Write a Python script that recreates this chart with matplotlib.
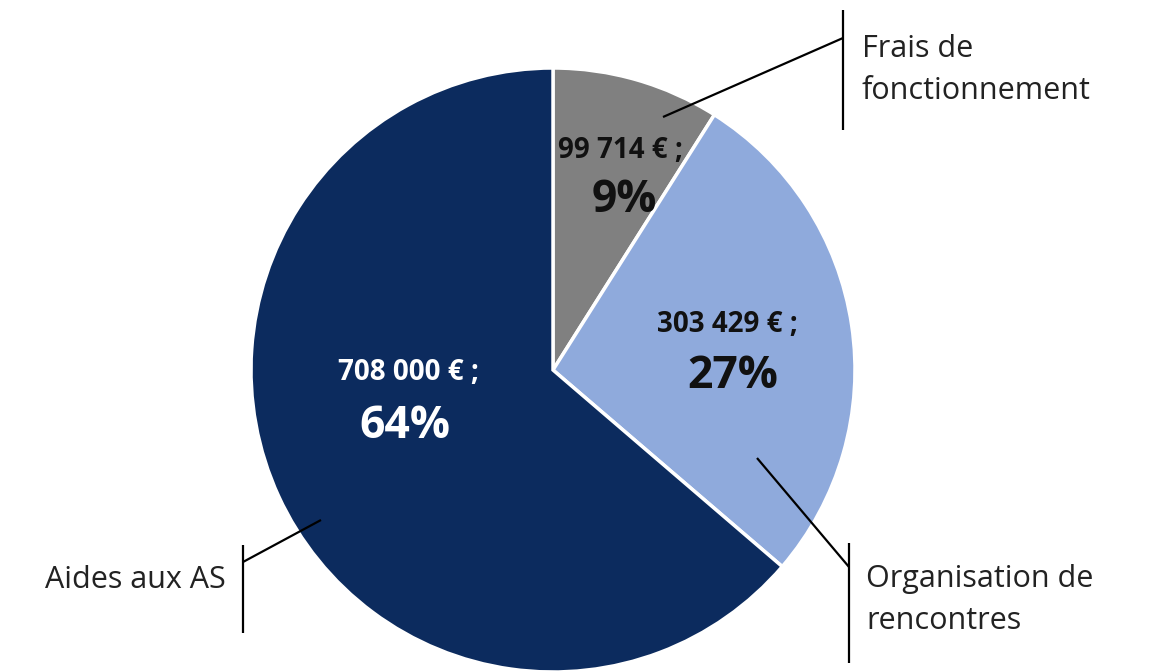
import matplotlib
matplotlib.use("Agg")
import matplotlib.pyplot as plt

# Données
categories = ["Frais de\nfonctionnement", "Organisation de\nrencontres", "Aides aux AS"]
montants = [99714, 303429, 708000]
montant_labels = ["99 714 € ;", "303 429 € ;", "708 000 € ;"]
pct_labels = ["9%", "27%", "64%"]
couleurs = ["#808080", "#8faadc", "#0c2b5e"]
couleurs_texte = ["#111111", "#111111", "white"]

W, H = 1150, 672
plt.rcParams["font.family"] = ["Open Sans", "DejaVu Sans"]

fig = plt.figure(figsize=(W / 100, H / 100), dpi=100)
ax = fig.add_axes([0, 0, 1, 1])


def px(x, y):
    return x, H - y


ax.pie(montants, colors=couleurs, startangle=90, counterclock=False,
       center=px(553, 370), radius=302, frame=True,
       wedgeprops=dict(edgecolor="white", linewidth=2.5))
ax.set_xlim(0, W)
ax.set_ylim(0, H)
ax.set_aspect("equal")
ax.axis("off")

# étiquettes internes (positions en pixels)
pos_montant = [(620, 151), (727, 324), (408, 372)]
pos_pct = [(624, 200), (733, 376), (405, 426)]
for i in range(3):
    ax.text(*px(*pos_montant[i]), montant_labels[i], ha="center", va="center",
            fontsize=20, fontweight="bold", color=couleurs_texte[i])
    ax.text(*px(*pos_pct[i]), pct_labels[i], ha="center", va="center",
            fontsize=32, fontweight="bold", color=couleurs_texte[i])

# lignes de rappel
lw = 1.6
lignes = [
    [(663, 117), (843, 38)],
    [(843, 10), (843, 130)],
    [(757, 458), (849, 567)],
    [(849, 543), (849, 663)],
    [(321, 520), (243, 562)],
    [(243, 545), (243, 633)],
]
for seg in lignes:
    xs = [px(*p)[0] for p in seg]
    ys = [px(*p)[1] for p in seg]
    ax.plot(xs, ys, color="black", lw=lw, solid_capstyle="butt")

ax.text(*px(862, 70), categories[0], ha="left", va="center",
        fontsize=22, color="#222222", linespacing=1.48)
ax.text(*px(866, 600), categories[1], ha="left", va="center",
        fontsize=22, color="#222222", linespacing=1.48)
ax.text(*px(226, 580), categories[2], ha="right", va="center",
        fontsize=22, color="#222222")

fig.savefig("out.png", dpi=100, facecolor="white")
